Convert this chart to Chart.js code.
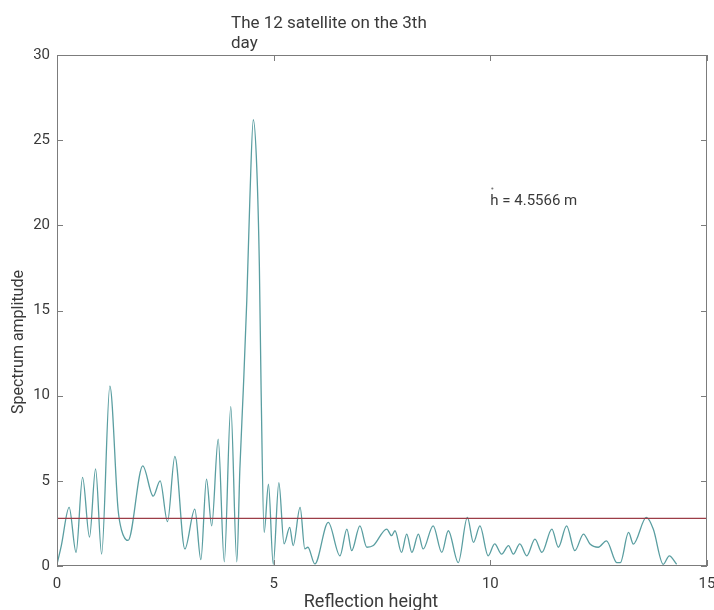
<!DOCTYPE html>
<html>
<head>
<meta charset="utf-8">
<script src="https://cdn.jsdelivr.net/npm/chart.js@4"></script>
<style>
  html, body { margin: 0; padding: 0; background: #ffffff; }
  canvas { display: block; }
</style>
</head>
<body>
<canvas id="c" width="714" height="610"></canvas>
<script>
// ---- data ----
const heights = [
  0.00, 0.10, 0.28, 0.44, 0.59, 0.75, 0.89, 1.03, 1.22, 1.41, 1.49, 1.64,
  1.98, 2.22, 2.38, 2.55, 2.72, 2.95, 3.18, 3.32, 3.45, 3.57, 3.72, 3.86,
  4.01, 4.15, 4.22, 4.30, 4.38, 4.45, 4.53, 4.61, 4.67, 4.71, 4.78, 4.88,
  4.99, 5.12, 5.24, 5.37, 5.45, 5.61, 5.72, 5.79, 5.95, 6.26, 6.53, 6.69,
  6.80, 6.99, 7.15, 7.30, 7.61, 7.72, 7.80, 7.95, 8.07, 8.19, 8.34, 8.45,
  8.68, 8.88, 9.03, 9.26, 9.47, 9.61, 9.76, 9.95, 10.10, 10.26, 10.42, 10.53,
  10.68, 10.84, 11.03, 11.19, 11.42, 11.57, 11.76, 11.95, 12.15, 12.30, 12.49, 12.68,
  12.92, 13.00, 13.19, 13.30, 13.60, 13.76, 13.99, 14.13, 14.30
];
const amplitudes = [
  0.1, 1.2, 3.44, 0.8, 5.2, 1.7, 5.7, 0.7, 10.56, 3.3, 2.1, 1.5,
  5.88, 4.1, 5.0, 2.6, 6.44, 1.0, 3.34, 0.37, 5.1, 2.36, 7.44, 0.25,
  9.36, 0.25, 5.7, 10.4, 15.6, 21.5, 26.2, 23.4, 17.6, 10.4, 1.97, 4.8,
  0.1, 4.9, 1.3, 2.27, 1.2, 3.44, 1.0, 1.1, 0.12, 2.56, 0.6, 2.17,
  0.9, 2.36, 1.1, 1.2, 2.17, 1.78, 2.07, 0.8, 1.87, 0.8, 1.87, 1.0,
  2.36, 0.8, 2.07, 0.2, 2.85, 1.39, 2.36, 0.6, 1.3, 0.7, 1.2, 0.7,
  1.3, 0.6, 1.58, 0.8, 2.17, 1.1, 2.36, 0.9, 1.87, 1.29, 1.1, 1.48,
  0.2, 0.2, 1.97, 1.29, 2.85, 2.17, 0.1, 0.6, 0.1
];
const thresholdX = [0, 15];
const thresholdY = [2.8, 2.8];
const xTicks = [0, 5, 10, 15];
const yTicks = [0, 5, 10, 15, 20, 25, 30];
const titleLines = ['The 12 satellite on the 3th', 'day'];
const xTitle = 'Reflection height';
const yTitle = 'Spectrum amplitude';
const annotationText = 'h = 4.5566 m';
const annotationPos = [10.0, 21.4];

// ---- styling ----
const FONT = 'Roboto, "Liberation Sans", Arial, sans-serif';
const AXIS_COLOR = '#7c7c7c';
const TEXT_COLOR = '#3a3a3a';

const spectrumData = heights.map((h, i) => ({ x: h, y: amplitudes[i] }));
const thresholdData = thresholdX.map((x, i) => ({ x: x, y: thresholdY[i] }));

const decor = {
  id: 'decor',
  afterDraw(chart) {
    const ctx = chart.ctx;
    const a = chart.chartArea;
    const xs = chart.scales.x, ys = chart.scales.y;
    ctx.save();
    // box
    ctx.strokeStyle = AXIS_COLOR;
    ctx.lineWidth = 1;
    ctx.strokeRect(Math.round(a.left) + 0.5, Math.round(a.top) + 0.5,
                   Math.round(a.right - a.left) - 1, Math.round(a.bottom - a.top) - 1);
    // inward ticks
    const TL = 6;
    ctx.beginPath();
    xTicks.forEach(v => {
      const px = Math.round(xs.getPixelForValue(v)) + 0.5;
      ctx.moveTo(px, a.bottom); ctx.lineTo(px, a.bottom - TL);
      ctx.moveTo(px, a.top); ctx.lineTo(px, a.top + TL);
    });
    yTicks.forEach(v => {
      const py = Math.round(ys.getPixelForValue(v)) + 0.5;
      ctx.moveTo(a.left, py); ctx.lineTo(a.left + TL, py);
      ctx.moveTo(a.right, py); ctx.lineTo(a.right - TL, py);
    });
    ctx.stroke();

    // title
    ctx.fillStyle = TEXT_COLOR;
    ctx.font = '17px ' + FONT;
    ctx.textAlign = 'left';
    ctx.textBaseline = 'alphabetic';
    ctx.fillText(titleLines[0], 231, 28);
    ctx.fillText(titleLines[1], 231, 48);

    // x axis title
    ctx.font = '18px ' + FONT;
    ctx.textAlign = 'center';
    ctx.textBaseline = 'alphabetic';
    ctx.fillText(xTitle, 371, 607);

    // y axis title
    ctx.save();
    ctx.translate(19, 342);
    ctx.rotate(-Math.PI / 2);
    ctx.font = '16px ' + FONT;
    ctx.textAlign = 'center';
    ctx.textBaseline = 'middle';
    ctx.fillText(yTitle, 0, 0);
    ctx.restore();

    // annotation
    const ax = xs.getPixelForValue(annotationPos[0]);
    const ay = ys.getPixelForValue(annotationPos[1]);
    ctx.font = '15px ' + FONT;
    ctx.textAlign = 'left';
    ctx.textBaseline = 'middle';
    ctx.fillText(annotationText, ax, ay);
    ctx.fillStyle = '#777';
    ctx.beginPath();
    ctx.arc(ax + 2, ay - 13, 1.1, 0, Math.PI * 2);
    ctx.fill();
    ctx.restore();
  }
};

new Chart(document.getElementById('c'), {
  type: 'line',
  data: {
    datasets: [
      {
        label: 'threshold',
        data: thresholdData,
        borderColor: '#9c3d47',
        borderWidth: 1.3,
        pointRadius: 0,
        fill: false
      },
      {
        label: 'spectrum',
        data: spectrumData,
        borderColor: '#5a9ea1',
        borderWidth: 1.3,
        pointRadius: 0,
        fill: false,
        cubicInterpolationMode: 'monotone'
      }
    ]
  },
  options: {
    responsive: false,
    animation: false,
    devicePixelRatio: 1,
    layout: { padding: { left: 0, right: 7, top: 55, bottom: 0 } },
    plugins: {
      legend: { display: false },
      tooltip: { enabled: false },
      title: { display: false }
    },
    scales: {
      x: {
        type: 'linear',
        min: 0, max: 15,
        grid: { display: false, drawTicks: false },
        border: { display: false },
        afterBuildTicks: s => { s.ticks = xTicks.map(v => ({ value: v })); },
        ticks: {
          color: TEXT_COLOR,
          font: { family: FONT, size: 15 },
          padding: 9,
          maxRotation: 0,
          autoSkip: false
        },
        afterFit: s => { s.height = 44; s.paddingLeft = 0; s.paddingRight = 0; }
      },
      y: {
        type: 'linear',
        min: 0, max: 30,
        grid: { display: false, drawTicks: false },
        border: { display: false },
        afterBuildTicks: s => { s.ticks = yTicks.map(v => ({ value: v })); },
        ticks: {
          color: TEXT_COLOR,
          font: { family: FONT, size: 15 },
          padding: 7,
          autoSkip: false
        },
        afterFit: s => { s.width = 57; s.paddingTop = 0; s.paddingBottom = 0; }
      }
    }
  },
  plugins: [decor]
});
</script>
</body>
</html>
